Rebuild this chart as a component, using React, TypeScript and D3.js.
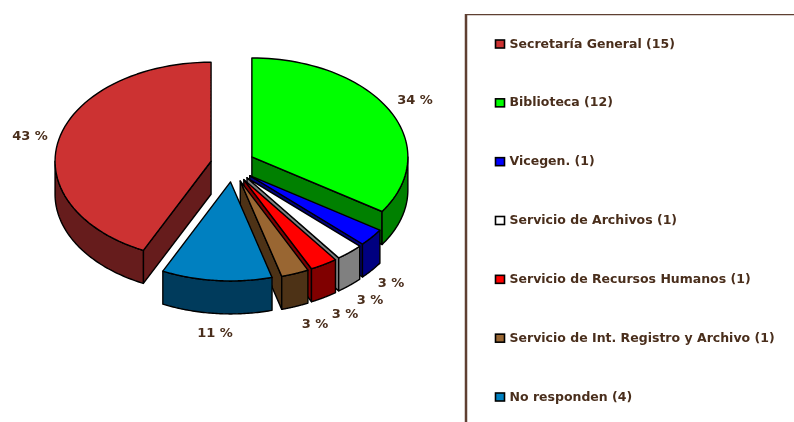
import React from "react";
import * as d3 from "d3";

const W = 794, H = 422;
const categories = ["Secretaría General", "Biblioteca", "Vicegen.", "Servicio de Archivos", "Servicio de Recursos Humanos", "Servicio de Int. Registro y Archivo", "No responden"];
const counts = [15, 12, 1, 1, 1, 1, 4];
const percentLabels = ["43 %", "34 %", "3 %", "3 %", "3 %", "3 %", "11 %"];
const topColors = ["#cc3333", "#00ff00", "#0000ff", "#ffffff", "#ff0000", "#996633", "#0080c0"];
const sideColors = ["#661a1a", "#008000", "#000080", "#808080", "#800000", "#4d3319", "#003a5c"];
const labelAnchors = [[30, 136], [415, 100], [391, 283], [370, 300], [345, 314], [315, 324], [215, 333]];

const cx = 232.5, cy = 165, rx = 156, ry = 99, depth = 33, explodeX = 22, explodeY = 17;
const TAU = 2 * Math.PI;

const startA = TAU * (1 - counts[0] / d3.sum(counts));
const pieGen = d3.pie<number>().sort(null).startAngle(startA).endAngle(startA + TAU);
const arcs = pieGen(counts);
const lineGen = d3.line<[number, number]>();
const legendY = d3.scalePoint<string>().domain(categories).range([44, 397]);

function sliceShapes(a: d3.PieArcDatum<number>) {
  const wrap = a.startAngle >= TAU - 1e-3 ? TAU : 0;
  const t1 = a.startAngle - wrap, t2 = a.endAngle - wrap, mid = (t1 + t2) / 2;
  const ax = cx + explodeX * Math.sin(mid), ay = cy - explodeY * Math.cos(mid);
  const pt = (t: number, dz = 0): [number, number] => [ax + rx * Math.sin(t), ay - ry * Math.cos(t) + dz];
  const sample = (from: number, to: number, dz = 0) =>
    d3.range(0, 61).map((i) => pt(from + ((to - from) * i) / 60, dz));
  const apex: [number, number] = [ax, ay];
  const apexLow: [number, number] = [ax, ay + depth];
  const top = lineGen([apex, ...sample(t1, t2)]) + "Z";
  const walls: string[] = [];
  const sin = (t: number) => Math.sin(t);
  if (sin(t1) < -0.01) walls.push(lineGen([apex, pt(t1), pt(t1, depth), apexLow]) + "Z");
  if (sin(t2) > 0.01) walls.push(lineGen([apex, pt(t2), pt(t2, depth), apexLow]) + "Z");
  const lo = Math.max(t1, Math.PI / 2), hi = Math.min(t2, 1.5 * Math.PI);
  let outer: string | null = null;
  if (hi > lo) outer = lineGen([...sample(lo, hi), ...sample(lo, hi, depth).reverse()]) + "Z";
  return { top, walls, outer };
}

export default function App() {
  return (
    <svg width={W} height={H} viewBox={`0 0 ${W} ${H}`} style={{ position: "absolute", left: 0, top: 0, background: "#fff" }}>
      <defs>
        <filter id="soft" x="0" y="0" width="100%" height="100%">
          <feGaussianBlur stdDeviation="0.45" />
        </filter>
      </defs>
      <g filter="url(#soft)">
        {arcs.map((a, i) => {
          const s = sliceShapes(a);
          return (
            <g key={i} stroke="#000" strokeWidth={1.4} strokeLinejoin="round">
              {s.walls.map((d, j) => <path key={j} d={d} fill={sideColors[i]} />)}
              {s.outer && <path d={s.outer} fill={sideColors[i]} />}
              <path d={s.top} fill={topColors[i]} />
            </g>
          );
        })}
        {percentLabels.map((t, i) => (
          <text key={i} x={labelAnchors[i][0]} y={labelAnchors[i][1]} textAnchor="middle" dominantBaseline="middle"
            fontFamily="DejaVu Sans" fontSize={13} fontWeight="bold" fill="#4a2e1c">{t}</text>
        ))}
        <path d={`M${W},14H466V${H}`} fill="none" stroke="#5f4030" strokeWidth={2.5} />
        {categories.map((c, i) => {
          const y = legendY(c)!;
          return (
            <g key={c}>
              <rect x={495.5} y={y - 4} width={9} height={8} fill={topColors[i]} stroke="#000" strokeWidth={1.6} />
              <text x={509.5} y={y} dominantBaseline="middle" fontFamily="DejaVu Sans" fontSize={12.5} fontWeight="bold"
                fill="#4a2e1c">{`${c} (${counts[i]})`}</text>
            </g>
          );
        })}
      </g>
    </svg>
  );
}
